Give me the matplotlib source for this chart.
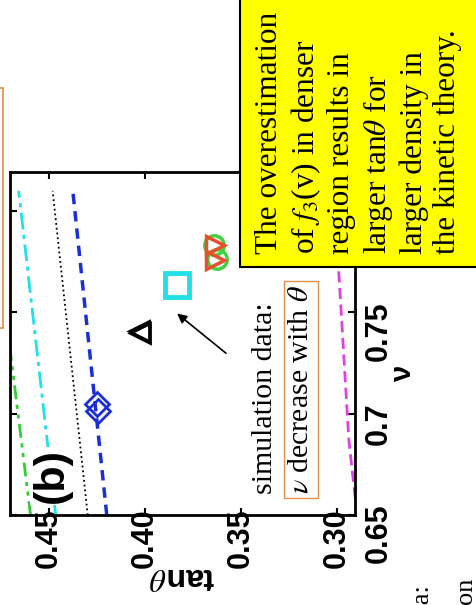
import matplotlib.pyplot as plt
from matplotlib.patches import Rectangle

plt.rcParams['mathtext.fontset'] = 'stix'

# theory curves: tan(theta) as a function of nu
nu_line = [0.65, 0.81]
tan_green = [0.4596, 0.4805]
tan_cyan = [0.4465, 0.4658]
tan_black = [0.4298, 0.4481]
tan_blue = [0.4199, 0.4376]
nu_magenta = [0.65, 0.687, 0.766, 0.81]
tan_magenta = [0.2895, 0.2938, 0.2988, 0.3022]

# simulation points
sim_blue_tan = [0.4250, 0.4244]
sim_blue_nu = [0.7048, 0.7012]
sim_black_tan = [0.4032, 0.4024]
sim_black_nu = [0.7409, 0.7396]
sim_cyan_tan = [0.3833]
sim_cyan_nu = [0.7636]
sim_green_tan = [0.3640, 0.3625]
sim_green_nu = [0.7834, 0.7765]
sim_red_tan = [0.3635, 0.3635]
sim_red_nu = [0.7834, 0.7760]

tan_ticks = [0.45, 0.40, 0.35, 0.30]
tan_labels = ['0.45', '0.40', '0.35', '0.30']
nu_ticks = [0.65, 0.70, 0.75, 0.80]
nu_labels = ['0.65', '0.7', '0.75', '0.8']

sans = ['Liberation Sans Narrow', 'Liberation Sans', 'DejaVu Sans']
serif = ['Liberation Serif', 'DejaVu Serif']

fig = plt.figure(figsize=(4.77, 6.05), dpi=100)
ax = fig.add_axes([10 / 477, 90 / 605, 345 / 477, 343 / 605])

# the panel is turned a quarter turn: tan(theta) runs along the bottom, nu up the right side
ax.plot(tan_green, nu_line, color='#33cc33', lw=2, dashes=[5, 2, 1.5, 2, 1.5, 2])
ax.plot(tan_cyan, nu_line, color='#22e0e8', lw=2, dashes=[6, 2, 1.5, 2])
ax.plot(tan_black, nu_line, color='k', lw=1.3, ls=':')
ax.plot(tan_blue, nu_line, color='#1a2fd6', lw=2.5, dashes=[3, 2])
ax.plot(tan_magenta, nu_magenta, color='#e040e0', lw=2, dashes=[4, 2])

ax.plot(sim_blue_tan, sim_blue_nu, 'D', ms=12, mfc='none', mec='#1a2fd6', mew=2)
ax.plot(sim_black_tan, sim_black_nu, '<', ms=15, mfc='none', mec='k', mew=2)
ax.plot(sim_cyan_tan, sim_cyan_nu, 's', ms=17, mfc='none', mec='#22e0e8', mew=3.5)
ax.plot(sim_green_tan, sim_green_nu, 'o', ms=14, mfc='none', mec='#3fd43f', mew=2.5)
ax.plot(sim_red_tan, sim_red_nu, '>', ms=13, mfc='none', mec='#e8502a', mew=2.5)

ax.annotate('', xy=(0.3844, 0.7503), xytext=(0.3567, 0.729),
            arrowprops=dict(arrowstyle='-|>', color='k', lw=1.2, mutation_scale=14))

ax.text(0.4486, 0.6693, '(b)', rotation=90, ha='center', va='center',
        family=sans, fontweight='bold', fontsize=31,
        bbox=dict(facecolor='white', edgecolor='none', pad=1))

ax.set_xlim(0.4703, 0.2906)
ax.set_ylim(0.65, 0.8193)
ax.set_xticks(tan_ticks)
ax.set_xticklabels(tan_labels, family=sans, fontweight='bold', fontsize=22,
                   rotation=90, rotation_mode='anchor', ha='right', va='center')
ax.set_yticks(nu_ticks)
ax.set_yticklabels(nu_labels, family=sans, fontweight='bold', fontsize=22)
ax.tick_params(axis='x', direction='in', length=5, width=1.5, top=True, bottom=True, pad=-5)
ax.tick_params(axis='y', direction='in', length=5, width=1.5, left=True, right=True,
               labelleft=False, labelright=True, labelrotation=90, pad=6)
for sp in ax.spines.values():
    sp.set_linewidth(2)

ax.set_xlabel('tan$\\theta$', rotation=180, family=['Liberation Sans', 'DejaVu Sans'],
              fontweight='bold', fontsize=23)
ax.xaxis.set_label_coords(0.5, -0.135)
ax.set_ylabel('ν', rotation=90, family=['Liberation Sans', 'DejaVu Sans'],
              fontweight='bold', fontsize=21)
ax.yaxis.set_label_position('right')
ax.yaxis.set_label_coords(1.10, 0.41)

# annotations laid over the panel
fig.text(252 / 477, 1 - 494 / 605, 'simulation data:', rotation=90, ha='left', va='bottom',
         family=serif, fontsize=21.5)
fig.text(288 / 477, 1 - 494 / 605, '$\\nu$ decrease with $\\theta$', rotation=90,
         ha='left', va='bottom', family=serif, fontsize=21.5,
         bbox=dict(facecolor='white', edgecolor='#e0904a', lw=1, pad=3))

fig.patches.append(Rectangle((240 / 477, 1 - 267 / 605), 0.6, 0.6, transform=fig.transFigure,
                             facecolor='#ffff00', edgecolor='k', lw=1.5, zorder=2))
fig.text(255 / 477, 1 - 254 / 605,
         'The overestimation\nof $f_3$(v) in denser\nregion results in\n'
         'larger tan$\\theta$ for\nlarger density in\nthe kinetic theory.',
         rotation=90, ha='left', va='bottom', multialignment='left',
         family=serif, fontsize=22.5, linespacing=1.2, zorder=3)

# edge of a neighbouring box and cut-off caption lines
fig.patches.append(Rectangle((-0.3, 1 - 328 / 605), 0.3 + 3 / 477, 240 / 605,
                             transform=fig.transFigure, facecolor='none',
                             edgecolor='#e0904a', lw=1.2, zorder=2))
fig.text(423 / 477, 1 - 585 / 605, 'Simulation data:', rotation=90, ha='center', va='top',
         family=serif, fontsize=19)
fig.text(466 / 477, 1 - 578 / 605, 'comparison', rotation=90, ha='center', va='top',
         family=serif, fontsize=19)

fig.savefig('out.png', dpi=100)
